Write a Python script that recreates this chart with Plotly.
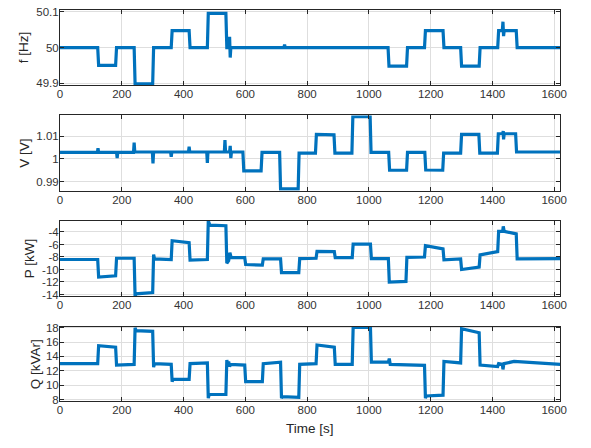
import plotly.graph_objects as go

# ---------------- data ----------------
t_f = [0, 122, 125, 180, 183, 240, 243, 300, 303, 360, 363, 418, 421, 477, 480,
       537, 540, 547, 549, 551, 553, 556, 725, 727, 729, 1062, 1065, 1122, 1125,
       1180, 1183, 1240, 1243, 1297, 1300, 1357, 1360, 1417, 1420, 1432, 1434,
       1436, 1438, 1477, 1480, 1620]
f_hz = [50.0, 50.0, 49.95, 49.95, 50.0, 50.0, 49.899, 49.899, 50.0, 50.0, 50.047,
        50.047, 50.0, 50.0, 50.095, 50.095, 50.0, 50.0, 50.03, 49.972, 50.0, 50.0,
        50.0, 50.008, 50.0, 50.0, 49.948, 49.948, 50.0, 50.0, 50.047, 50.047, 50.0,
        50.0, 49.948, 49.948, 50.0, 50.0, 50.047, 50.047, 50.072, 50.032, 50.047,
        50.047, 50.0, 50.0]

t_v = [0, 121, 123, 125, 183, 185, 187, 238, 240, 242, 299, 301, 303, 358, 360,
       362, 416, 418, 420, 475, 477, 479, 532, 534, 536, 549, 551, 553, 555, 592,
       595, 651, 654, 711, 714, 771, 774, 827, 830, 887, 890, 945, 948, 1004,
       1007, 1064, 1067, 1122, 1125, 1181, 1184, 1239, 1242, 1297, 1300, 1356,
       1359, 1416, 1419, 1433, 1435, 1436, 1438, 1475, 1478, 1620]
v_pu = [1.0028, 1.0028, 1.0046, 1.0028, 1.0028, 1.0003, 1.0028, 1.0028, 1.0071,
        1.003, 1.003, 0.998, 1.003, 1.003, 1.0009, 1.003, 1.003, 1.0053, 1.003,
        1.003, 0.9982, 1.003, 1.003, 1.0082, 1.003, 1.003, 1.0057, 1.0003, 1.003,
        1.003, 0.9947, 0.9947, 1.0028, 1.0028, 0.9868, 0.9868, 1.0025, 1.0025,
        1.0107, 1.0105, 1.0025, 1.0025, 1.0185, 1.0185, 1.0028, 1.0028, 0.995,
        0.995, 1.0028, 1.0028, 0.9951, 0.995, 1.0025, 1.0025, 1.0107, 1.0107,
        1.0025, 1.0025, 1.011, 1.011, 1.0122, 1.0085, 1.011, 1.011, 1.003, 1.003]

t_p = [0, 122, 125, 180, 183, 240, 243, 246, 300, 303, 306, 360, 363, 418, 421,
       477, 480, 485, 537, 540, 546, 550, 554, 598, 601, 655, 658, 714, 717, 773,
       776, 829, 832, 888, 891, 946, 949, 1005, 1008, 1063, 1066, 1120, 1123,
       1180, 1183, 1240, 1243, 1297, 1300, 1357, 1360, 1417, 1420, 1433, 1435,
       1438, 1477, 1480, 1620]
p_kw = [-8.4, -8.4, -11.2, -11.0, -8.2, -8.2, -14.3, -13.9, -13.7, -7.6, -8.3,
        -8.4, -5.4, -5.7, -8.5, -8.4, -2.2, -2.9, -3.0, -9.0, -8.6, -7.3, -8.1,
        -8.1, -9.2, -9.3, -8.3, -8.3, -10.5, -10.5, -8.25, -8.2, -7.1, -7.15,
        -8.1, -8.1, -5.95, -5.95, -8.25, -8.25, -12.0, -11.9, -8.05, -8.0, -6.2,
        -6.7, -8.45, -8.3, -10.0, -9.6, -7.65, -7.15, -3.9, -3.9, -3.1, -3.9,
        -4.3, -8.3, -8.25]

t_q = [0, 122, 125, 180, 183, 240, 243, 246, 300, 303, 306, 360, 363, 366, 418,
       421, 477, 480, 483, 537, 540, 543, 546, 549, 552, 598, 601, 655, 658, 714,
       717, 720, 773, 776, 829, 832, 888, 891, 946, 949, 1005, 1008, 1063, 1066,
       1069, 1180, 1183, 1186, 1240, 1243, 1297, 1300, 1357, 1360, 1417, 1420,
       1432, 1434, 1437, 1470, 1620]
q_kvar = [13.0, 13.0, 15.5, 15.3, 12.8, 12.9, 18.0, 17.6, 17.5, 12.5, 13.0, 12.9,
          10.5, 10.8, 10.8, 13.0, 13.1, 8.2, 8.7, 8.7, 13.5, 12.8, 13.3, 12.6,
          12.9, 12.8, 10.5, 10.5, 13.0, 13.2, 8.2, 8.4, 8.3, 12.9, 13.0, 15.6,
          15.3, 12.9, 12.9, 18.05, 18.05, 13.2, 13.2, 13.7, 12.9, 12.75, 8.2, 8.5,
          8.6, 13.3, 13.1, 17.85, 17.3, 12.8, 12.6, 13.0, 12.9, 12.2, 13.0, 13.3,
          12.9]

x_ticks = [0, 200, 400, 600, 800, 1000, 1200, 1400, 1600]
f_ticks = [49.9, 50.0, 50.1]
f_ticktext = ["49.9", "50", "50.1"]
v_ticks = [0.99, 1.0, 1.01]
v_ticktext = ["0.99", "1", "1.01"]
p_ticks = [-14, -12, -10, -8, -6, -4]
p_ticktext = ["-14", "-12", "-10", "-8", "-6", "-4"]
q_ticks = [8, 10, 12, 14, 16, 18]
q_ticktext = ["8", "10", "12", "14", "16", "18"]

y_labels = ["f [Hz]", "V [V]", "P [kW]", "Q [kVAr]"]

# ---------------- figure ----------------
W, H = 591, 448
BLUE = "#0072BD"
AX = "#262626"
GRID = "#dedede"
FONT = "Liberation Sans, Arial, sans-serif"

x0, x1 = 58 / W, 567 / W
boxes = [(5, 82), (113, 190), (221, 298), (329, 405)]  # top,bottom px
ranges = [[49.895, 50.105], [0.986, 1.019], [-14.3, -2.25], [7.8, 18.15]]
ticks = [(f_ticks, f_ticktext), (v_ticks, v_ticktext), (p_ticks, p_ticktext),
         (q_ticks, q_ticktext)]
series = [(t_f, f_hz), (t_v, v_pu), (t_p, p_kw), (t_q, q_kvar)]
label_x = [21, 21, 27, 33]

fig = go.Figure()
layout = dict(
    width=W, height=H, margin=dict(l=0, r=0, t=0, b=0),
    paper_bgcolor="white", plot_bgcolor="white", showlegend=False,
    font=dict(family=FONT, size=12, color=AX),
)
annotations = []
for i, ((xs, ys), (top, bot), rng, (tv, tt)) in enumerate(zip(series, boxes, ranges, ticks)):
    n = "" if i == 0 else str(i + 1)
    fig.add_trace(go.Scatter(x=xs, y=ys, mode="lines",
                             line=dict(color=BLUE, width=3.2),
                             xaxis="x" + n, yaxis="y" + n, hoverinfo="skip"))
    axcommon = dict(showline=True, linecolor=AX, linewidth=1, mirror="ticks",
                    ticks="inside", ticklen=4, tickcolor=AX, showgrid=True,
                    gridcolor=GRID, gridwidth=1, zeroline=False,
                    tickfont=dict(family=FONT, size=11.5, color="#333333"))
    layout["xaxis" + n] = dict(axcommon, domain=[x0, x1], range=[0, 1620],
                               tickvals=x_ticks, anchor="y" + n,
                               ticklabelstandoff=-2)
    layout["yaxis" + n] = dict(axcommon, domain=[1 - bot / H, 1 - top / H],
                               range=rng, tickvals=tv, ticktext=tt,
                               anchor="x" + n, ticklabelstandoff=-2)
    annotations.append(dict(text=y_labels[i], x=label_x[i] / W, y=1 - (top + bot) / 2 / H,
                            xref="paper", yref="paper", xanchor="center",
                            yanchor="middle", textangle=-90, showarrow=False,
                            font=dict(family=FONT, size=13.5, color=AX)))
annotations.append(dict(text="Time [s]", x=312 / W, y=1 - 433 / H, xref="paper",
                        yref="paper", xanchor="center", yanchor="middle",
                        showarrow=False, font=dict(family=FONT, size=13.5, color=AX)))
layout["annotations"] = annotations
fig.update_layout(**layout)
fig.write_html("out.html")
